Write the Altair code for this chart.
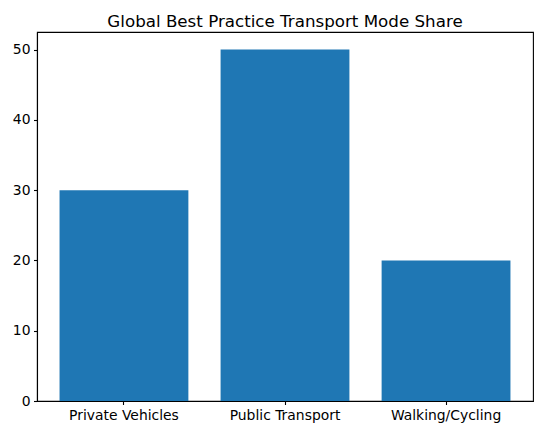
import altair as alt
import pandas as pd

modes = ["Private Vehicles", "Public Transport", "Walking/Cycling"]
shares = [30, 50, 20]

df = pd.DataFrame({"mode": modes, "share": shares})

axis_style = dict(labelFontSize=13.9, labelPadding=3.5, tickSize=3.5,
                  tickColor="black", domainColor="black", labelColor="black",
                  labelFont="DejaVu Sans", tickWidth=1.1, domainWidth=1.1, ticks=True)

chart = alt.Chart(df).mark_bar(color="#1f77b4").encode(
    x=alt.X("mode:N", sort=modes, title=None,
            scale=alt.Scale(paddingInner=0.2, paddingOuter=0.14),
            axis=alt.Axis(labelAngle=0, **axis_style)),
    y=alt.Y("share:Q", title=None,
            scale=alt.Scale(domain=[0, 52.5], nice=False, zero=True),
            axis=alt.Axis(values=[0, 10, 20, 30, 40, 50], grid=False, **axis_style)),
).properties(
    width=496, height=369,
    background="white",
    title=alt.TitleParams("Global Best Practice Transport Mode Share",
                          font="DejaVu Sans", fontSize=16.7, fontWeight="normal",
                          color="black", baseline="alphabetic", offset=8, dy=20,
                          anchor="middle"),
    autosize=alt.AutoSizeParams(type="none"),
    padding={"left": 29, "top": 24, "right": 2, "bottom": 30},
).configure_view(stroke="black", strokeWidth=1.1)

chart.save("out.html", embed_options={"renderer": "svg", "actions": False})
